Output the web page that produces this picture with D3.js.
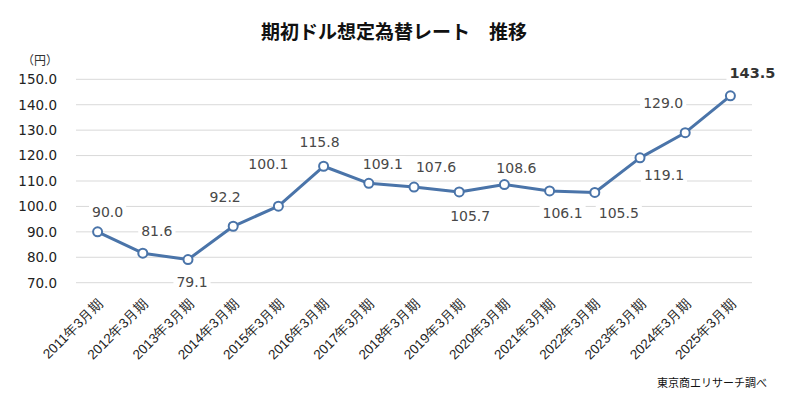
<!DOCTYPE html>
<html><head><meta charset="utf-8">
<script src="https://cdn.jsdelivr.net/npm/d3@7"></script>
<style>
html,body{margin:0;padding:0;background:#fff;}
svg{display:block;font-family:"Noto Sans CJK JP","Noto Sans",sans-serif;}
</style></head>
<body>
<svg id="chart" width="800" height="408"></svg>
<script>
const categories = ["2011年3月期","2012年3月期","2013年3月期","2014年3月期","2015年3月期","2016年3月期","2017年3月期","2018年3月期","2019年3月期","2020年3月期","2021年3月期","2022年3月期","2023年3月期","2024年3月期","2025年3月期"];
const rates = [90.0, 81.6, 79.1, 92.2, 100.1, 115.8, 109.1, 107.6, 105.7, 108.6, 106.1, 105.5, 119.1, 129.0, 143.5];
const yTicks = [70, 80, 90, 100, 110, 120, 130, 140, 150];
// label placement (dx, dy from point), as arranged in the source chart
const labelOffsets = [[10,-20],[14,-22],[4,22],[-8,-29],[-10,-42],[-4,-24],[14,-19],[22,-20],[11,24],[12,-17],[13,22],[24,21],[24,17],[-22,-30],[22,-23]];

const svg = d3.select("#chart");
const x = d3.scalePoint().domain(categories).range([75, 753]).padding(0.5);
const y = d3.scaleLinear().domain([70, 150]).range([282.7, 79.3]);
const blue = "#4a74a9";

svg.append("text").attr("x", 394).attr("y", 39).attr("text-anchor", "middle")
  .attr("font-size", 19).attr("font-weight", "bold").attr("fill", "#111")
  .text("期初ドル想定為替レート　推移");

svg.append("text").attr("x", 22).attr("y", 65).attr("font-size", 12).attr("fill", "#333").text("（円）");

// gridlines
svg.append("g").selectAll("line").data(yTicks).join("line")
  .attr("x1", 76).attr("x2", 752)
  .attr("y1", d => y(d)).attr("y2", d => y(d))
  .attr("stroke", "#d9d9d9").attr("stroke-width", 1);

// y axis
const yAxis = svg.append("g").attr("transform", "translate(62,0)")
  .call(d3.axisLeft(y).tickValues(yTicks).tickFormat(d3.format(".1f")).tickSize(0).tickPadding(5));
yAxis.select(".domain").remove();
yAxis.selectAll("text").attr("font-size", 13.5).attr("fill", "#222")
  .attr("font-family", "Verdana, 'DejaVu Sans', sans-serif");

// x axis
const xAxis = svg.append("g").attr("transform", "translate(0,290)")
  .call(d3.axisBottom(x).tickSize(0).tickPadding(0));
xAxis.select(".domain").remove();
xAxis.selectAll("text")
  .attr("font-size", 13.5).attr("fill", "#222")
  .attr("text-anchor", "end")
  .attr("y", 0).attr("dy", 0)
  .attr("transform", "translate(6,14) rotate(-45)");

// line
const line = d3.line().x((d, i) => x(categories[i])).y(d => y(d));
svg.append("path").datum(rates).attr("d", line)
  .attr("fill", "none").attr("stroke", blue).attr("stroke-width", 3).attr("stroke-linejoin", "round");

// markers
svg.append("g").selectAll("circle").data(rates).join("circle")
  .attr("cx", (d, i) => x(categories[i])).attr("cy", d => y(d)).attr("r", 4.5)
  .attr("fill", "#fff").attr("stroke", blue).attr("stroke-width", 2);

// labels
const lg = svg.append("g");
rates.forEach((v, i) => {
  const last = i === rates.length - 1;
  const cx = x(categories[i]) + labelOffsets[i][0];
  const cy = y(v) + labelOffsets[i][1];
  const t = lg.append("text").attr("x", cx).attr("y", cy).attr("dy", "0.36em")
    .attr("text-anchor", "middle")
    .attr("font-family", "Verdana, 'DejaVu Sans', sans-serif")
    .attr("font-size", last ? 14.5 : 14)
    .attr("font-weight", last ? "bold" : "normal")
    .attr("fill", last ? "#333" : "#484848")
    .text(v.toFixed(1));
  const bb = t.node().getBBox();
  lg.insert("rect", () => t.node())
    .attr("x", bb.x - 3).attr("y", bb.y).attr("width", bb.width + 6).attr("height", bb.height)
    .attr("fill", "#fff");
});

svg.append("text").attr("x", 767).attr("y", 387).attr("text-anchor", "end")
  .attr("font-size", 11).attr("fill", "#111").text("東京商エリサーチ調べ");
</script>
</body></html>
